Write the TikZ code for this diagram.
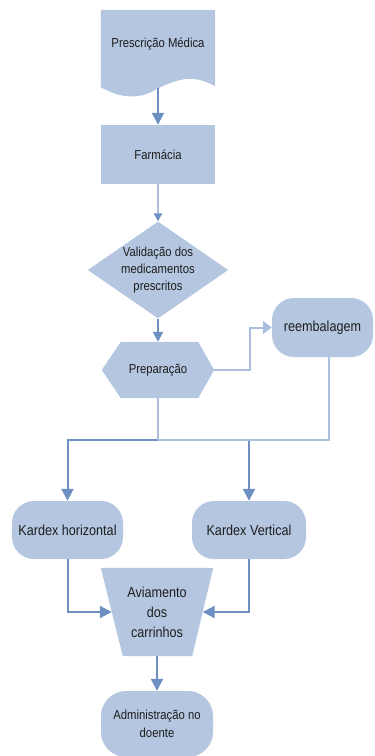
\documentclass[tikz,border=0pt]{standalone}
\usepackage{fontspec}
\newfontfamily\flowfont[FakeStretch=0.87]{Liberation Sans}
\usetikzlibrary{arrows.meta,positioning,calc,shapes.geometric,backgrounds}
\definecolor{FlowFill}{HTML}{B4C6E0}
\definecolor{FlowDark}{HTML}{6E8FC2}
\definecolor{FlowLight}{HTML}{AABFDD}
\definecolor{FlowInk}{HTML}{1E1E1E}

\begin{document}
\begin{tikzpicture}[x=1bp,y=-1bp,
    box/.style={
      fill=FlowFill,
      minimum width=#1,
      minimum height=58bp,
      inner sep=0pt,
      align=center,
      text=FlowInk,
      font=\flowfont\fontsize{13bp}{17bp}\selectfont
    },
    pill/.style={
      box=#1,
      rounded corners=22bp,
      font=\flowfont\fontsize{14.5bp}{18bp}\selectfont
    },
    shell/.style={
      box=#1,
      fill=none
    },
    darkline/.style={
      draw=FlowDark,
      line width=2bp,
      -{Triangle[length=12bp,width=12bp]}
    },
    lightline/.style={
      draw=FlowLight,
      line width=2bp
    }
  ]
  \useasboundingbox (0,0) rectangle (374,756);

  % Prescricao medica
  \node[shell=114bp,minimum height=78bp,text depth=13bp] (presc) at (158,49)
    {Prescrição Médica};

  % Farmacia
  \node[box=114bp,minimum height=59bp] (farm) at (158,154.5) {Farmácia};

  % Validacao
  \node[box=138bp,diamond,aspect=1.45,minimum height=95bp] (valid) at (158,270)
    {Validação dos\\medicamentos\\prescritos};

  % Preparacao
  \node[shell=112bp,minimum height=56bp] (prep) at (158,370) {Preparação};

  % Reembalagem
  \node[pill=101bp,minimum height=59bp] (reemb) at (322.5,327.5) {reembalagem};

  % Kardex
  \node[pill=111bp] (kh) at (67.5,530) {Kardex horizontal};
  \node[pill=114bp] (kv) at (249,530) {Kardex Vertical};

  % Aviamento
  \node[shell=112bp,minimum height=88bp,
        font=\flowfont\fontsize{14.5bp}{20bp}\selectfont] (aviam) at (157,612)
    {Aviamento\\dos\\carrinhos};

  % Administracao
  \node[pill=112bp,minimum height=66bp,rounded corners=25bp,
        font=\flowfont\fontsize{13bp}{18bp}\selectfont] (admin) at (157,724)
    {Administração no\\doente};

  % shapes behind the texts
  \begin{scope}[on background layer]
    \fill[FlowFill] (presc.north west) -- (presc.north east)
      -- ($(presc.south east)+(0,-2)$) .. controls +(-22,-12) and +(22,-10) .. (presc.south)
      .. controls +(-20,13) and +(18,10) .. ($(presc.south west)+(0,-1)$) -- cycle;
    \fill[FlowFill] (prep.west) -- ($(prep.north west)+(19,0)$)
      -- ($(prep.north east)+(-16,0)$) -- (prep.east)
      -- ($(prep.south east)+(-16,0)$) -- ($(prep.south west)+(19,0)$) -- cycle;
    \fill[FlowFill] (aviam.north west) -- (aviam.north east)
      -- ($(aviam.south east)+(-21,0)$) -- ($(aviam.south west)+(22,0)$) -- cycle;
  \end{scope}

  \coordinate (split) at ($(prep.south)+(0,42)$);
  \coordinate (avleft) at ($(aviam.west)+(11,0)$);
  \coordinate (avright) at ($(aviam.east)+(-10.5,0)$);

  % Connectors
  \draw[darkline] (presc.south) -- (farm);
  \draw[lightline,-{Triangle[length=8bp,width=8bp,color=FlowDark]}] (farm) -- (valid);
  \draw[darkline,-{Triangle[length=10bp,width=10bp]}] (valid) -- (prep);
  \draw[lightline,-{Triangle[length=9bp,width=13bp,color=FlowLight]}]
    (prep.east) -- ++(36,0) |- (reemb);
  \draw[darkline] (split) -| (kh);
  \draw[darkline] (split) -| (kv);
  \draw[lightline] (prep) -- (split);
  \draw[lightline] ($(reemb.south)+(6,0)$) |- (split);
  \draw[darkline] (kh) |- (avleft);
  \draw[darkline] (kv) |- (avright);
  \draw[darkline] (aviam.south) -- (admin);

\end{tikzpicture}
\end{document}
